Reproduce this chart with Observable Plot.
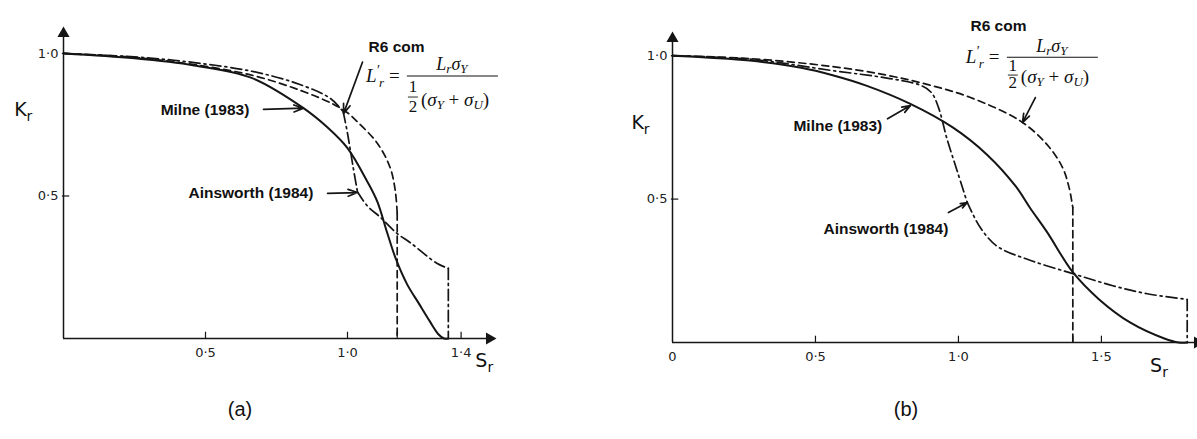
<!DOCTYPE html>
<html><head><meta charset="utf-8">
<script src="https://cdn.jsdelivr.net/npm/d3@7"></script>
<script src="https://cdn.jsdelivr.net/npm/@observablehq/plot@0.6"></script>
<style>
body{margin:0;background:#fff;}
#wrap{position:relative;width:1197px;height:439px;overflow:hidden;background:#fff;}
#pa{position:absolute;left:0;top:0;}
#pb{position:absolute;left:600px;top:0;}
.cap{position:absolute;font-family:"Liberation Sans",Arial,sans-serif;font-size:20px;color:#111;transform:translate(-50%,-50%);}
</style></head><body>
<div id="wrap"><div id="pa"></div><div id="pb"></div>
<div class="cap" style="left:240px;top:409px">(a)</div>
<div class="cap" style="left:906px;top:409px">(b)</div>
</div>
<script>
// ---------- Panel (a) data ----------
const milneA = [[0,1],[0.25,0.983],[0.46,0.958],[0.66,0.915],[0.845,0.808],[0.93,0.74],[1.0,0.668],[1.07,0.55],[1.105,0.48],[1.14,0.37],[1.17,0.28],[1.21,0.19],[1.25,0.125],[1.29,0.06],[1.32,0.015],[1.34,0],[1.355,0]];
const r6A = [[0,1],[0.25,0.986],[0.46,0.961],[0.67,0.922],[0.83,0.872],[0.95,0.822],[1.0,0.792],[1.035,0.76],[1.105,0.685],[1.15,0.6],[1.168,0.52],[1.175,0.44]];
const r6ADrop = [[1.175,0.44],[1.175,0]];
const ainsATop = [[0,1],[0.25,0.988],[0.46,0.968],[0.67,0.936],[0.83,0.892],[0.94,0.842],[0.985,0.795]];
const ainsADrop = [[0.985,0.795],[1.0,0.72],[1.02,0.6],[1.035,0.515]];
const ainsATail = [[1.035,0.515],[1.07,0.465],[1.116,0.425],[1.175,0.368],[1.22,0.337],[1.316,0.263],[1.355,0.246]];
const ainsADrop2 = [[1.355,0.246],[1.355,0]];
const xTicksA = [0.5, 1.0, 1.175, 1.4];
const xTickLabelsA = ["0·5", "1·0", "", "1·4"];
const yTicksA = [0.5, 1.0];
const yTickLabelsA = ["0·5", "1·0"];

// ---------- Panel (b) data ----------
const milneB = [[0,1],[0.13,0.993],[0.27,0.983],[0.45,0.958],[0.56,0.932],[0.68,0.895],[0.83,0.833],[0.98,0.75],[1.1,0.655],[1.2,0.545],[1.25,0.47],[1.31,0.385],[1.4,0.245],[1.49,0.152],[1.6,0.07],[1.72,0.014],[1.77,0],[1.8,0]];
const r6B = [[0,1],[0.27,0.99],[0.56,0.962],[0.75,0.932],[0.89,0.9],[1.04,0.855],[1.217,0.772],[1.31,0.69],[1.364,0.61],[1.387,0.54],[1.4,0.47]];
const r6BDrop = [[1.4,0.47],[1.4,0]];
const ainsBTop = [[0,1],[0.27,0.988],[0.56,0.948],[0.75,0.922],[0.867,0.897],[0.905,0.872],[0.93,0.82],[0.96,0.71],[0.995,0.6],[1.03,0.49]];
const ainsBTail = [[1.03,0.49],[1.077,0.40],[1.136,0.335],[1.25,0.287],[1.4,0.24],[1.54,0.198],[1.66,0.17],[1.8,0.15]];
const ainsBDrop2 = [[1.8,0.15],[1.8,0]];
const xTicksB = [0, 0.5, 1.0, 1.4, 1.5];
const xTickLabelsB = ["0", "0·5", "1·0", "", "1·5"];
const yTicksB = [0.5, 1.0];
const yTickLabelsB = ["0·5", "1·0"];

// ---------- annotations (data units) ----------
const labelsA = [
  {text:"Milne (1983)", x:0.342, y:0.80},
  {text:"Ainsworth (1984)", x:0.44, y:0.512},
  {text:"R6 com", x:1.074, y:1.021}
];
const arrowsA = [
  {x1:0.704, y1:0.804, x2:0.845, y2:0.808},
  {x1:0.93, y1:0.509, x2:1.035, y2:0.512},
  {x1:1.053, y1:0.97, x2:0.986, y2:0.789}
];
const labelsB = [
  {text:"Milne (1983)", x:0.423, y:0.756},
  {text:"Ainsworth (1984)", x:0.528, y:0.394},
  {text:"R6 com", x:1.042, y:1.105}
];
const arrowsB = [
  {x1:0.752, y1:0.78, x2:0.832, y2:0.826},
  {x1:0.965, y1:0.453, x2:1.031, y2:0.488},
  {x1:1.269, y1:0.854, x2:1.224, y2:0.767}
];

const INK = "#151515";
const X = d => d[0], Y = d => d[1];
const solid = {x:X, y:Y, stroke:INK, strokeWidth:2, curve:"catmull-rom"};
const dashed = {x:X, y:Y, stroke:INK, strokeWidth:1.7, strokeDasharray:"7,4.5", curve:"catmull-rom"};
const dashdot = {x:X, y:Y, stroke:INK, strokeWidth:1.7, strokeDasharray:"11,4,2,4", curve:"catmull-rom"};
const dashdotLin = {x:X, y:Y, stroke:INK, strokeWidth:1.7, strokeDasharray:"11,4,2,4"};
const dashedLin = {x:X, y:Y, stroke:INK, strokeWidth:1.7, strokeDasharray:"7,4.5"};

function axesMarks(xEnd, yTop, xTicks, xLabels, yTicks, yLabels){
  return [
    Plot.ruleX([0], {y1:0, y2:yTop, stroke:INK, strokeWidth:1.5}),
    Plot.ruleY([0], {x1:0, x2:xEnd, stroke:INK, strokeWidth:1.5}),
    Plot.dot([[0, yTop]], {x:X, y:Y, symbol:"triangle", r:4.5, fill:INK, stroke:null}),
    Plot.dot([[xEnd, 0]], {x:X, y:Y, symbol:"triangle", r:4.5, fill:INK, stroke:null, rotate:90}),
    Plot.ruleX(xTicks.filter(d => d > 0), {x:d => d, y1:0, y2:0.022, stroke:INK, strokeWidth:1.2}),
    Plot.text(xTicks, {x:d => d, y:0, text:(d,i) => xLabels[i], dy:14, fontFamily:"DejaVu Sans", fontSize:13, fill:"#222"}),
    Plot.ruleY(yTicks, {y:d => d, x1:-0.004, x2:0.022, stroke:INK, strokeWidth:1.2}),
    Plot.text(yTicks, {x:0, y:d => d, text:(d,i) => yLabels[i], dx:-5, textAnchor:"end", fontFamily:"DejaVu Sans", fontSize:13, fill:"#222"})
  ];
}
function annoMarks(labels, arrows){
  return [
    Plot.text(labels, {x:"x", y:"y", text:"text", textAnchor:"start", fontFamily:"Liberation Sans, Arial, sans-serif", fontWeight:"bold", fontSize:15.5, fill:"#111"}),
    Plot.arrow(arrows, {x1:"x1", y1:"y1", x2:"x2", y2:"y2", stroke:INK, strokeWidth:1.7, headLength:9, headAngle:40})
  ];
}

const plotA = Plot.plot({
  width:560, height:390, marginLeft:63, marginRight:71, marginTop:33, marginBottom:52,
  style:{overflow:"visible", background:"transparent"},
  x:{domain:[0,1.5], axis:null}, y:{domain:[0,1.07], axis:null},
  marks:[
    ...axesMarks(1.5, 1.07, xTicksA, xTickLabelsA, yTicksA, yTickLabelsA),
    Plot.line(milneA, solid),
    Plot.line(r6A, dashed),
    Plot.line(r6ADrop, dashedLin),
    Plot.line(ainsATop, dashdot),
    Plot.line(ainsADrop, dashdot),
    Plot.line(ainsATail, dashdot),
    Plot.line(ainsADrop2, dashdotLin),
    ...annoMarks(labelsA, arrowsA)
  ]
});
const plotB = Plot.plot({
  width:597, height:390, marginLeft:72, marginRight:0, marginTop:38, marginBottom:48,
  style:{overflow:"visible", background:"transparent"},
  x:{domain:[0,1.836], axis:null}, y:{domain:[0,1.06], axis:null},
  marks:[
    ...axesMarks(1.836, 1.06, xTicksB, xTickLabelsB, yTicksB, yTickLabelsB),
    Plot.line(milneB, solid),
    Plot.line(r6B, dashed),
    Plot.line(r6BDrop, dashedLin),
    Plot.line(ainsBTop, dashdot),
    Plot.line(ainsBTail, dashdot),
    Plot.line(ainsBDrop2, dashdotLin),
    ...annoMarks(labelsB, arrowsB)
  ]
});
document.getElementById("pa").appendChild(plotA);
document.getElementById("pb").appendChild(plotB);

// rich text (subscripts, formula) placed through the plots' own scales
function rich(g, x, y, parts, base){
  const t = g.append("text").attr("x", x).attr("y", y)
    .attr("font-family", base.family).attr("font-size", base.size).attr("fill", "#111")
    .attr("text-anchor", base.anchor || "start");
  if (base.italic) t.attr("font-style", "italic");
  for (const p of parts){
    const s = t.append("tspan").text(p.t);
    if (p.size) s.attr("font-size", p.size);
    if (p.dy) s.attr("dy", p.dy);
    if (p.dx) s.attr("dx", p.dx);
    if (p.italic === false) s.attr("font-style", "normal");
    if (p.italic === true) s.attr("font-style", "italic");
  }
  return t;
}
function decorate(plot, axisLab, formulaAt, compact){
  const sx = plot.scale("x"), sy = plot.scale("y");
  const svg = d3.select(plot);
  const sans = {family:"DejaVu Sans", size:19};
  rich(svg, sx.apply(axisLab.k[0]), sy.apply(axisLab.k[1]), [{t:"K"},{t:"r", size:14, dy:5}], sans);
  rich(svg, sx.apply(axisLab.s[0]), sy.apply(axisLab.s[1]), [{t:"S"},{t:"r", size:14, dy:5}], sans);
  // formula  L'_r = L_r σ_Y / ( 1/2 (σ_Y + σ_U) )
  const g = svg.append("g").attr("transform", `translate(${sx.apply(formulaAt[0])},${sy.apply(formulaAt[1])})`);
  const fam = "Liberation Serif, DejaVu Serif, serif";
  const serif = {family:fam, size:19, italic:true};
  const k = compact ? 0.85 : 1;
  // left-hand side, drawn as separate pieces so nothing overlaps
  rich(g, -41, 6, [{t:"L"}], serif);
  rich(g, -30, -1, [{t:"′"}], {family:fam, size:14});
  rich(g, -28, 11, [{t:"r"}], {family:fam, size:13, italic:true});
  rich(g, -18, 6, [{t:"="}], {family:fam, size:19});
  g.append("line").attr("x1",0).attr("x2",91).attr("y1",0).attr("y2",0).attr("stroke","#111").attr("stroke-width",1.1);
  rich(g, 45, -6*k, [{t:"L"},{t:"r", size:13, dy:3},{t:"σ", dy:-3},{t:"Y", size:13, dy:3}], {...serif, size:18, anchor:"middle"});
  rich(g, 6, 16*k, [{t:"1"}], {family:fam, size:17, anchor:"middle"});
  g.append("line").attr("x1",1).attr("x2",11).attr("y1",21*k).attr("y2",21*k).attr("stroke","#111").attr("stroke-width",0.9);
  rich(g, 6, 36*k, [{t:"2"}], {family:fam, size:17, anchor:"middle"});
  rich(g, 14, 30*k, [{t:"(", italic:false},{t:"σ"},{t:"Y", size:13, dy:3},{t:" + ", dy:-3, italic:false},{t:"σ"},{t:"U", size:13, dy:3},{t:")", dy:-3, italic:false}], {...serif, size:19});
}
const axisLabA = {k:[-0.172, 0.778], s:[1.452, -0.1]};
const axisLabB = {k:[-0.142, 0.742], s:[1.672, -0.105]};
const formulaA = [1.211, 0.919];
const formulaB = [1.171, 0.993];
decorate(plotA, axisLabA, formulaA, false);
decorate(plotB, axisLabB, formulaB, true);
</script>
</body></html>
